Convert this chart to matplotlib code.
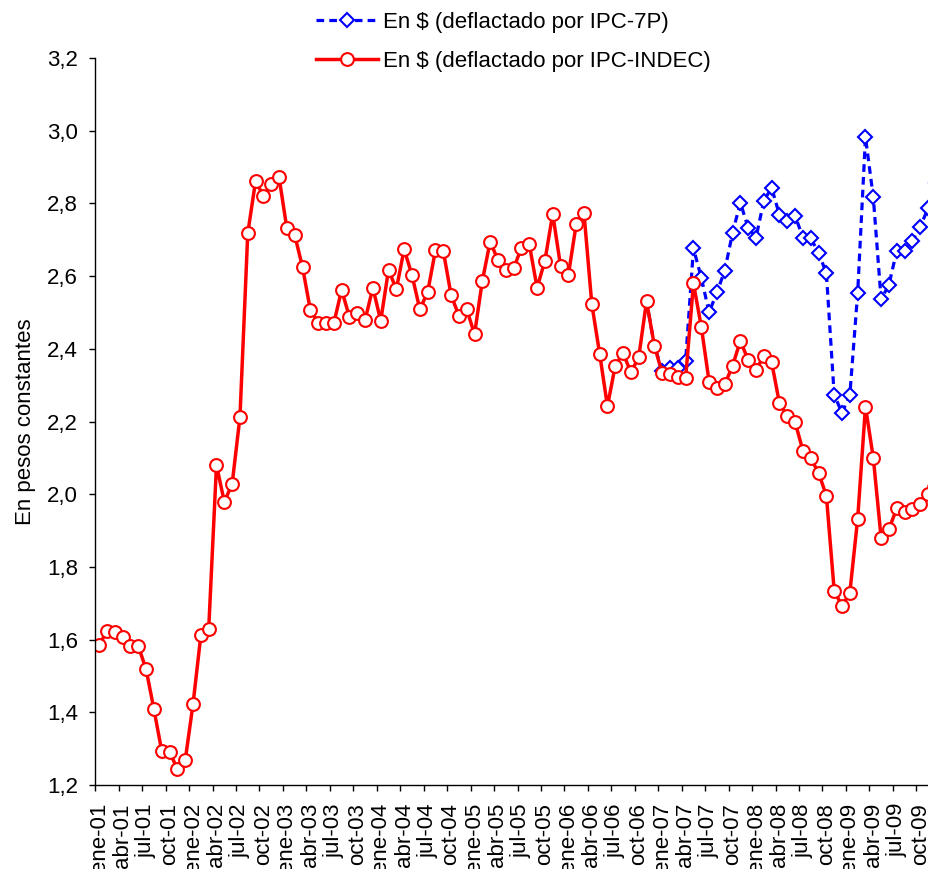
import numpy as np
import matplotlib
matplotlib.use("Agg")
import matplotlib.pyplot as plt

plt.rcParams['font.family'] = ['Liberation Sans', 'DejaVu Sans']

# meses y años del eje (series mensuales desde ene-01)
meses = ["ene", "feb", "mar", "abr", "may", "jun", "jul", "ago", "sep", "oct", "nov", "dic"]
anios = ["01", "02", "03", "04", "05", "06", "07", "08", "09", "10"]

# En $ deflactado por IPC-INDEC, ene-01 .. dic-09
indec = [
    1.585, 1.624, 1.620, 1.606, 1.582, 1.582, 1.518, 1.408, 1.293, 1.291, 1.244, 1.268,
    1.423, 1.612, 1.628, 2.080, 1.979, 2.028, 2.212, 2.718, 2.862, 2.820, 2.852, 2.872,
    2.731, 2.713, 2.625, 2.507, 2.472, 2.470, 2.470, 2.562, 2.488, 2.498, 2.479, 2.568,
    2.477, 2.617, 2.564, 2.674, 2.603, 2.509, 2.555, 2.671, 2.670, 2.548, 2.491, 2.509,
    2.440, 2.587, 2.695, 2.644, 2.617, 2.621, 2.678, 2.688, 2.568, 2.642, 2.771, 2.628,
    2.603, 2.742, 2.773, 2.523, 2.387, 2.242, 2.354, 2.388, 2.335, 2.377, 2.531, 2.409,
    2.333, 2.331, 2.323, 2.320, 2.580, 2.461, 2.310, 2.291, 2.302, 2.353, 2.422, 2.369,
    2.342, 2.380, 2.363, 2.250, 2.215, 2.198, 2.120, 2.099, 2.059, 1.996, 1.735, 1.692,
    1.729, 1.932, 2.241, 2.100, 1.880, 1.904, 1.961, 1.950, 1.960, 1.972, 2.000, 2.168,
]

# IPC-7P: coincide con INDEC hasta dic-06 (queda tapada), luego ene-07 .. dic-09
ipc7p_desde_07 = [
    2.340, 2.346, 2.346, 2.367, 2.676, 2.596, 2.500, 2.555, 2.615, 2.719, 2.802, 2.733,
    2.706, 2.807, 2.843, 2.768, 2.752, 2.766, 2.706, 2.704, 2.664, 2.608, 2.273, 2.224,
    2.273, 2.553, 2.982, 2.817, 2.536, 2.576, 2.670, 2.669, 2.697, 2.736, 2.786, 2.856,
]
inicio = 70
ipc7p = indec[inicio:72] + ipc7p_desde_07

etiquetas = [m + "-" + a for a in anios for m in meses]

fig = plt.figure(figsize=(9.29, 8.69), dpi=100)
# el gráfico original está recortado a la derecha
ax = fig.add_axes([95.3 / 929, 84 / 869, 120 * 7.819 / 929, 727 / 869])

x = np.arange(len(indec))
x7p = np.arange(inicio, inicio + len(ipc7p))
ax.plot(x7p, ipc7p, color="#0000FF", lw=2.3, dashes=(2.4, 1.6),
        marker="D", ms=6.8, mfc="white", mec="#0000FF", mew=1.5,
        markevery=list(range(2, len(ipc7p))),
        label="En $ (deflactado por IPC-7P)")
ax.plot(x, indec, color="#FF0000", lw=2.5,
        marker="o", ms=9.2, mfc="white", mec="#FF0000", mew=1.5,
        label="En $ (deflactado por IPC-INDEC)")

ax.set_xlim(-0.5, 119.5)
ax.set_ylim(1.2, 3.2)

fs = 16
yt = np.arange(1.2, 3.21, 0.2)
ax.set_yticks(yt, [f"{v:.1f}".replace(".", ",") for v in yt])
ax.tick_params(axis="y", length=4.3, width=1, pad=8, labelsize=fs, direction="out")

pos = np.arange(0, 120, 3)
ax.set_xticks(pos, [etiquetas[i] for i in pos], rotation=90)
ax.tick_params(axis="x", which="major", length=0, pad=13, labelsize=fs)
ax.set_xticks(np.arange(-0.5, 120, 3), minor=True)
ax.tick_params(axis="x", which="minor", length=4.3, width=1, direction="out")

for s in ["top", "right"]:
    ax.spines[s].set_visible(False)
for s in ["left", "bottom"]:
    ax.spines[s].set_color("black")
    ax.spines[s].set_linewidth(1)

ax.set_ylabel("En pesos constantes", fontsize=fs)
ax.yaxis.set_label_coords((36 - 95.3) / (120 * 7.819), 0.5)

fig.legend(loc="upper left", bbox_to_anchor=(316 / 929, 1 - 12 / 869),
           frameon=False, fontsize=fs, handlelength=2.8, handletextpad=0.2,
           labelspacing=0.82, borderpad=0, borderaxespad=0)

fig.savefig("out.png", dpi=100)
